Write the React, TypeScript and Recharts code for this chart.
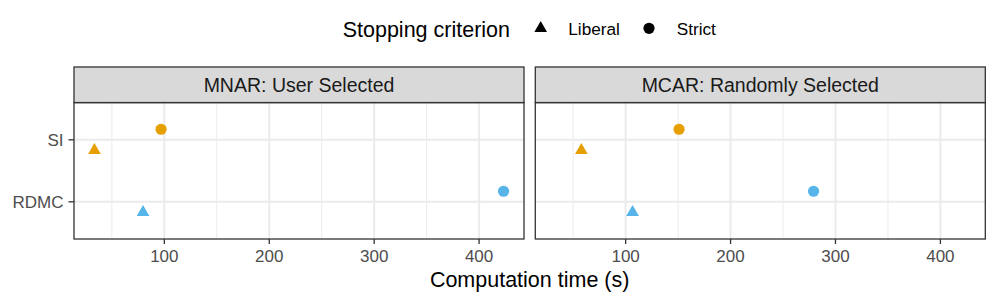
import React from "react";
import { ScatterChart, Scatter, XAxis, YAxis, ReferenceLine } from "recharts";

// ---- data ----
const panels = ["MNAR: User Selected", "MCAR: Randomly Selected"];
const methods = ["SI", "RDMC"];
const criteria = ["Liberal", "Strict"];
// values ordered as methods: [SI, RDMC]
const mnarLiberal = [33.4, 79.7];
const mnarStrict = [96.9, 423.3];
const mcarLiberal = [57.8, 106.6];
const mcarStrict = [150.9, 279.1];
const xTicks = [100, 200, 300, 400];
const xMinorTicks = [50, 150, 250, 350];

const methodColors: Record<string, string> = { SI: "#E69F00", RDMC: "#56B4E9" };
const FONT = "'Liberation Sans', Arial, Helvetica, sans-serif";

// category position: SI on top
const catPos = (m: string) => methods.length - methods.indexOf(m);
const DODGE = 0.17;

const build = (vals: number[], crit: string) =>
  methods.map((m, i) => ({
    x: vals[i],
    y: catPos(m) + (crit === "Strict" ? DODGE : -DODGE),
    method: m,
  }));

const panelData = [
  { liberal: build(mnarLiberal, "Liberal"), strict: build(mnarStrict, "Strict") },
  { liberal: build(mcarLiberal, "Liberal"), strict: build(mcarStrict, "Strict") },
];

const allX = [...mnarLiberal, ...mnarStrict, ...mcarLiberal, ...mcarStrict];
const lo = Math.min(...allX);
const hi = Math.max(...allX);
const pad = 0.05 * (hi - lo);
const xDomain: [number, number] = [lo - pad, hi + pad];
const yDomain: [number, number] = [0.4, methods.length + 0.6];

const TRI_R = 7.33, TRI_XC = 6.35, TRI_YC = 3.67;
const triPath = (cx: number, cy: number) =>
  `M${cx},${cy - TRI_R}L${cx + TRI_XC},${cy + TRI_YC}L${cx - TRI_XC},${cy + TRI_YC}Z`;

const TriangleShape = (p: any) => (
  <path d={triPath(p.cx, p.cy)} fill={methodColors[p.payload?.method] || p.fill} />
);
const CircleShape = (p: any) => (
  <circle cx={p.cx} cy={p.cy} r={5.6} fill={methodColors[p.payload?.method] || p.fill} />
);

// layout
const W = 997, H = 303;
const PLOT_TOP = 102.6, PLOT_BOTTOM = 239;
const STRIP_TOP = 67;
const panelX = [
  [74, 524],
  [535.3, 985.3],
];

function Panel({ idx }: { idx: number }) {
  const [x0, x1] = panelX[idx];
  const left = idx === 0 ? 0 : 530;
  const width = idx === 0 ? 530 : W - 530;
  const yAxisW = idx === 0 ? 74 : 0;
  const margin = {
    top: PLOT_TOP,
    bottom: H - PLOT_BOTTOM - 30,
    left: x0 - left - yAxisW,
    right: left + width - x1,
  };
  const d = panelData[idx];
  return (
    <div style={{ position: "absolute", left, top: 0 }}>
      <ScatterChart width={width} height={H} margin={margin}>
        <XAxis
          type="number"
          dataKey="x"
          domain={xDomain}
          ticks={xTicks}
          allowDataOverflow
          axisLine={false}
          tickLine={{ stroke: "#333333", strokeWidth: 1.3 }}
          tickSize={5}
          tickMargin={6}
          height={30}
          tick={{ fill: "#4D4D4D", fontSize: 17, fontFamily: FONT }}
        />
        {idx === 0 ? (
          <YAxis
            type="number"
            dataKey="y"
            domain={yDomain}
            ticks={methods.map(catPos)}
            tickFormatter={(v: number) => methods[methods.length - v]}
            allowDataOverflow
            axisLine={false}
            tickLine={{ stroke: "#333333", strokeWidth: 1.3 }}
            tickSize={5.5}
            tickMargin={5}
            width={yAxisW}
            tick={{ fill: "#4D4D4D", fontSize: 17, fontFamily: FONT }}
          />
        ) : (
          <YAxis type="number" dataKey="y" domain={yDomain} allowDataOverflow hide />
        )}
        {xMinorTicks.map((t) => (
          <ReferenceLine key={"mn" + t} x={t} stroke="#EBEBEB" strokeWidth={1} />
        ))}
        {xTicks.map((t) => (
          <ReferenceLine key={"mj" + t} x={t} stroke="#EBEBEB" strokeWidth={2} />
        ))}
        {methods.map((m) => (
          <ReferenceLine key={"h" + m} y={catPos(m)} stroke="#EBEBEB" strokeWidth={2} />
        ))}
        <Scatter data={d.liberal} shape={TriangleShape} isAnimationActive={false} />
        <Scatter data={d.strict} shape={CircleShape} isAnimationActive={false} />
      </ScatterChart>
    </div>
  );
}

export default function App() {
  return (
    <div
      style={{
        position: "absolute",
        left: 0,
        top: 0,
        width: W,
        height: H,
        background: "#FFFFFF",
        fontFamily: FONT,
      }}
    >
      <Panel idx={0} />
      <Panel idx={1} />
      <svg
        width={W}
        height={H}
        style={{ position: "absolute", left: 0, top: 0, pointerEvents: "none" }}
      >
        {panelX.map(([x0, x1], i) => (
          <g key={i}>
            <rect
              x={x0}
              y={STRIP_TOP}
              width={x1 - x0}
              height={PLOT_TOP - STRIP_TOP}
              fill="#D9D9D9"
              stroke="#333333"
              strokeWidth={1.3}
            />
            <text
              x={(x0 + x1) / 2}
              y={92.3}
              textAnchor="middle"
              fontSize={19.5}
              fill="#1A1A1A"
              fontFamily={FONT}
            >
              {panels[i]}
            </text>
            <rect
              x={x0}
              y={PLOT_TOP}
              width={x1 - x0}
              height={PLOT_BOTTOM - PLOT_TOP}
              fill="none"
              stroke="#333333"
              strokeWidth={1.3}
            />
          </g>
        ))}
        <text
          x={(panelX[0][0] + panelX[1][1]) / 2}
          y={286.5}
          textAnchor="middle"
          fontSize={21.5}
          fill="#000000"
          fontFamily={FONT}
        >
          Computation time (s)
        </text>
        {/* legend */}
        <text x={342.7} y={36.5} fontSize={21.5} fill="#000000" fontFamily={FONT}>
          Stopping criterion
        </text>
        <path d={triPath(540.7, 28.4)} fill="#000000" />
        <text x={568.3} y={35.3} fontSize={17.2} fill="#000000" fontFamily={FONT}>
          {criteria[0]}
        </text>
        <circle cx={649} cy={28.3} r={5.6} fill="#000000" />
        <text x={676.7} y={35.3} fontSize={17.2} fill="#000000" fontFamily={FONT}>
          {criteria[1]}
        </text>
      </svg>
    </div>
  );
}
